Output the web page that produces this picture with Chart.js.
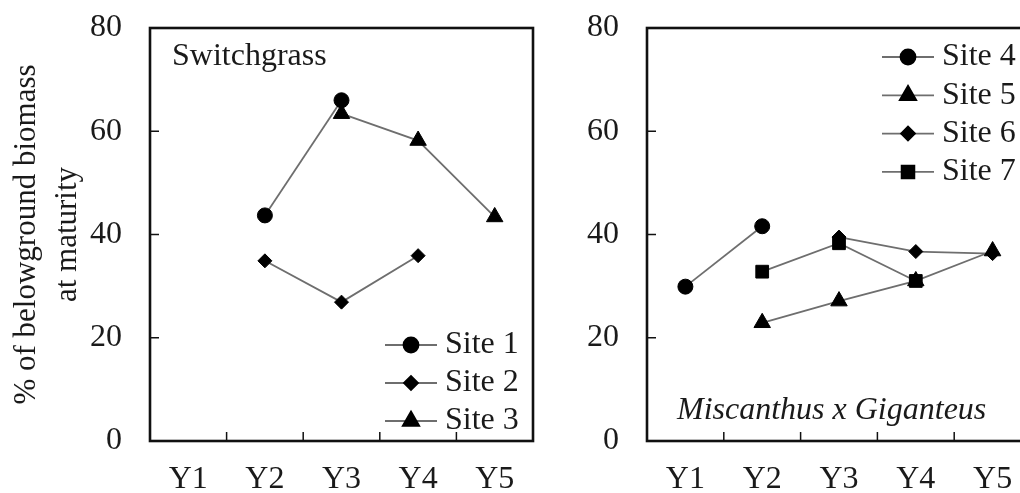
<!DOCTYPE html>
<html>
<head>
<meta charset="utf-8">
<script src="https://cdn.jsdelivr.net/npm/chart.js@4.4.0/dist/chart.umd.min.js"></script>
<style>
  html, body { margin: 0; padding: 0; background: #fff; overflow: hidden; width: 1020px; height: 493px; }
  #left { position: absolute; left: 0; top: 0; }
  #right { position: absolute; left: 560px; top: 0; }
</style>
</head>
<body>
<canvas id="left" width="560" height="493"></canvas>
<canvas id="right" width="500" height="493"></canvas>
<script>
// categories and values
const years = ['Y1', 'Y2', 'Y3', 'Y4', 'Y5'];
const yTicks = [0, 20, 40, 60, 80];

const site1 = [null, 43.7, 66.0, null, null];
const site2 = [null, 34.9, 26.9, 35.9, null];
const site3 = [null, null, 63.4, 58.2, 43.4];

const site4 = [29.9, 41.6, null, null, null];
const site5 = [null, 22.9, 27.1, 31.0, 36.8];
const site6 = [null, null, 39.5, 36.7, 36.3];
const site7 = [null, 32.8, 38.3, 31.0, null];

const SERIF = '"Liberation Serif", "Times New Roman", serif';
const TXT = '#1a1a1a';
const FS = 32;

const styles = {
  circle: { pointStyle: 'circle', pointRadius: 7.5 },
  diamond: { pointStyle: 'rectRot', pointRadius: 7 },
  triangle: { pointStyle: 'triangle', pointRadius: 9.5 },
  square: { pointStyle: 'rect', pointRadius: 9 }
};

function series(label, data, shape, extra) {
  return Object.assign({
    label: label,
    data: data,
    borderColor: '#6e6e6e',
    borderWidth: 1.8,
    pointBackgroundColor: '#000',
    pointBorderColor: '#000',
    pointBorderWidth: 1,
    pointHoverRadius: styles[shape].pointRadius,
    spanGaps: false,
    tension: 0,
    clip: false
  }, styles[shape], extra || {});
}

// box around the plot, with short inward ticks
const framePlugin = {
  id: 'frame',
  beforeDatasetsDraw(chart) {
    const { ctx, chartArea: a, scales: { x, y } } = chart;
    ctx.save();
    ctx.strokeStyle = '#111';
    ctx.lineWidth = 2.6;
    ctx.strokeRect(a.left, a.top, a.right - a.left, a.bottom - a.top);
    ctx.lineWidth = 1.5;
    ctx.beginPath();
    y.ticks.forEach(t => {
      const py = y.getPixelForValue(t.value);
      ctx.moveTo(a.left, py);
      ctx.lineTo(a.left + 9, py);
    });
    for (let i = 0; i < years.length - 1; i++) {
      const px = (x.getPixelForValue(i) + x.getPixelForValue(i + 1)) / 2;
      ctx.moveTo(px, a.bottom);
      ctx.lineTo(px, a.bottom - 9);
    }
    ctx.stroke();
    ctx.restore();
  }
};

// legend drawn as line + marker, like the original
const lineLegend = {
  id: 'lineLegend',
  afterDraw(chart, args, o) {
    const ctx = chart.ctx;
    ctx.save();
    ctx.font = FS + 'px ' + SERIF;
    ctx.textBaseline = 'middle';
    ctx.textAlign = 'left';
    chart.data.datasets.forEach((ds, i) => {
      const yy = o.y + i * o.rowGap;
      ctx.strokeStyle = ds.borderColor;
      ctx.lineWidth = ds.borderWidth;
      ctx.beginPath();
      ctx.moveTo(o.x, yy);
      ctx.lineTo(o.x + o.lineLen, yy);
      ctx.stroke();
      ctx.fillStyle = '#000';
      ctx.strokeStyle = '#000';
      Chart.helpers.drawPoint(ctx, { pointStyle: ds.pointStyle, radius: ds.pointRadius, borderWidth: 1 }, o.x + o.lineLen / 2, yy);
      ctx.fillStyle = TXT;
      ctx.fillText(ds.label, o.x + o.lineLen + o.gap, yy);
    });
    ctx.restore();
  }
};

const panelLabel = {
  id: 'panelLabel',
  afterDraw(chart, args, o) {
    const ctx = chart.ctx;
    ctx.save();
    ctx.font = o.font;
    ctx.fillStyle = TXT;
    ctx.textBaseline = 'middle';
    ctx.textAlign = 'left';
    ctx.fillText(o.text, o.x, o.y);
    ctx.restore();
  }
};

function makeOptions(cfg) {
  return {
    responsive: false,
    animation: false,
    layout: { padding: { top: 28, right: cfg.padRight, left: 0, bottom: 0 } },
    plugins: {
      legend: { display: false },
      tooltip: { enabled: false },
      lineLegend: cfg.legend,
      panelLabel: cfg.label
    },
    scales: {
      x: {
        type: 'category',
        offset: true,
        grid: { display: false, drawTicks: false, tickLength: 0 },
        border: { display: false },
        ticks: { font: { family: SERIF, size: FS }, color: TXT, padding: 19, maxRotation: 0 },
        afterFit: s => { s.height = 52; s.paddingLeft = 0; s.paddingRight = 0; }
      },
      y: {
        min: 0,
        max: 80,
        grid: { display: false, drawTicks: false, tickLength: 0 },
        border: { display: false },
        afterBuildTicks: s => { s.ticks = yTicks.map(v => ({ value: v })); },
        ticks: { font: { family: SERIF, size: FS }, color: TXT, padding: 28 },
        title: cfg.yTitle,
        afterFit: s => { s.width = cfg.yWidth; s.paddingTop = 0; s.paddingBottom = 0; }
      }
    }
  };
}

new Chart(document.getElementById('left'), {
  type: 'line',
  data: {
    labels: years,
    datasets: [
      series('Site 1', site1, 'circle'),
      series('Site 2', site2, 'diamond'),
      series('Site 3', site3, 'triangle')
    ]
  },
  options: makeOptions({
    yWidth: 150,
    padRight: 27,
    yTitle: {
      display: true,
      text: ['% of belowground biomass', 'at maturity'],
      font: { family: SERIF, size: 31, lineHeight: 1.3 },
      color: TXT,
      padding: { top: 7, bottom: 0 }
    },
    legend: { x: 385, y: 345, rowGap: 38, lineLen: 52, gap: 8 },
    label: { text: 'Switchgrass', x: 172, y: 57, font: FS + 'px ' + SERIF }
  }),
  plugins: [framePlugin, lineLegend, panelLabel]
});

new Chart(document.getElementById('right'), {
  type: 'line',
  data: {
    labels: years,
    datasets: [
      series('Site 4', site4, 'circle'),
      series('Site 5', site5, 'triangle'),
      series('Site 6', site6, 'diamond'),
      series('Site 7', site7, 'square', { order: -1 })
    ]
  },
  options: makeOptions({
    yWidth: 87,
    padRight: 29,
    yTitle: { display: false },
    legend: { x: 322, y: 57, rowGap: 38.3, lineLen: 52, gap: 8 },
    label: { text: 'Miscanthus x Giganteus', x: 117, y: 411, font: 'italic ' + FS + 'px ' + SERIF }
  }),
  plugins: [framePlugin, lineLegend, panelLabel]
});
</script>
</body>
</html>
